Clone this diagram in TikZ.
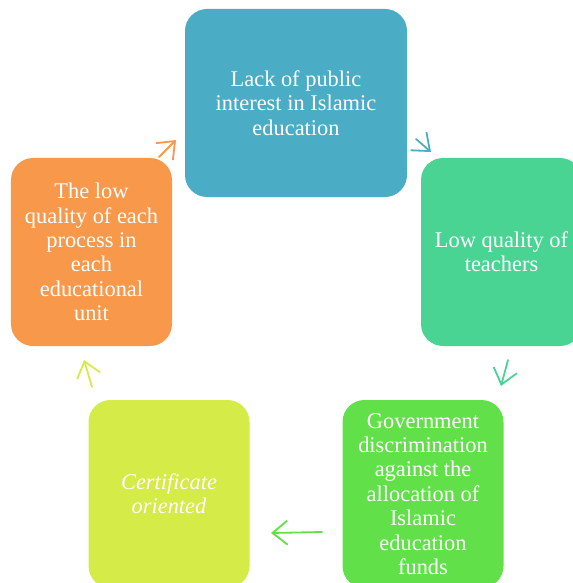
\documentclass[tikz,border=0pt]{standalone}
\usepackage{fontspec}
\setmainfont{Liberation Serif}
\usetikzlibrary{arrows.meta}
\definecolor{cycblue}{HTML}{4BACC6}
\definecolor{cycteal}{HTML}{4AD493}
\definecolor{cycgreen}{HTML}{62E04A}
\definecolor{cyclime}{HTML}{D4EB48}
\definecolor{cycorange}{HTML}{F7984A}

\tikzset{
  stage/.style={rectangle, rounded corners=22bp, inner sep=4bp, text=white, align=center,
    minimum width=161bp, minimum height=188bp, font=\fontsize{22.5}{24.5}\selectfont},
  cyc/.style={line width=1.8bp, line cap=round, line join=round,
    -{Straight Barb[length=15bp,width=24bp]}}
}

\begin{document}
\begin{tikzpicture}[x=1bp, y=-1bp]
\useasboundingbox (0,0) rectangle (573,583);
\clip (0,0) rectangle (573,583);

% the five stages of the cycle
\node[stage, fill=cycblue, minimum width=222bp] (lack) at (296,103) {Lack of public\\interest in Islamic\\education};
\node[stage, fill=cycteal] (teachers) at (501.5,252) {Low quality of\\teachers};
\node[stage, fill=cycgreen] (funds) at (423,494) {Government\\discrimination\\against the\\allocation of\\Islamic\\education\\funds};
\node[stage, fill=cyclime] (certificate) at (169,494) {\itshape Certificate\\\itshape oriented};
\node[stage, fill=cycorange] (quality) at (91.5,252) {The low\\quality of each\\process in\\each\\educational\\unit};

% short arrows between them
\coordinate (q0) at (159,157); \coordinate (q1) at (176,140);
\coordinate (l0) at (416,139); \coordinate (l1) at (431,152);
\coordinate (t0) at (508,360); \coordinate (t1) at (501,386);
\coordinate (f0) at (322,532); \coordinate (f1) at (271,533);
\coordinate (c0) at (92,387); \coordinate (c1) at (84,360);
\draw[cyc, cycorange] (q0) -- (q1);
\draw[cyc, cycblue] (l0) -- (l1);
\draw[cyc, cycteal] (t0) -- (t1);
\draw[cyc, cycgreen] (f0) -- (f1);
\draw[cyc, cyclime] (c0) -- (c1);
\end{tikzpicture}
\end{document}
